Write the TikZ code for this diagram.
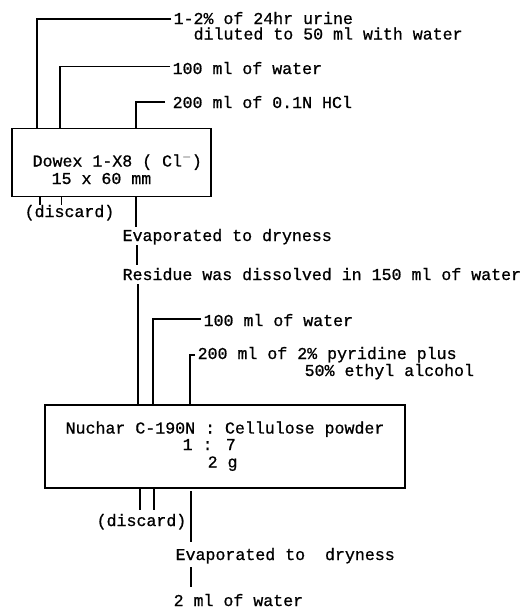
\documentclass[tikz,border=0pt]{standalone}
\usepackage{fontspec}
\newfontfamily\twfont{Liberation Mono}[FakeBold=0.8]
\begin{document}
\begin{tikzpicture}[x=1pt,y=-1pt, line width=1.3pt,
  lbl/.style={font=\twfont\fontsize{16.6}{16}\selectfont, anchor=base west, inner sep=0pt},
  colbox/.style={draw, rectangle, inner sep=0pt}]
\useasboundingbox (0,0) rectangle (529,608);
% column 1
\node[colbox, minimum width=199pt, minimum height=68pt] (col1) at (111.5,162.5) {};
\node[lbl] (urine) at (173,24) {1-2\% of 24hr urine};
\node[lbl] (urineb) at (193,39.5) {diluted to 50 ml with water};
\node[lbl] (wat1) at (172,74) {100 ml of water};
\node[lbl] (hcl) at (172,108) {200 ml of 0.1N HCl};
\node[lbl] (dowex) at (32,166.5) {Dowex 1-X8 ( Cl$^{-}$)};
\node[lbl] (size1) at (51,184) {15 x 60 mm};
\node[lbl] (disc1) at (24,217) {(discard)};
\node[lbl] (evap1) at (122,241) {Evaporated to dryness};
\node[lbl] (resid) at (122,280) {Residue was dissolved in 150 ml of water};
\coordinate (u0) at (171,19);   \coordinate (b1u) at (37,128.5);
\coordinate (w0) at (170,66.5); \coordinate (b1w) at (60,128.5);
\coordinate (h0) at (165,102);  \coordinate (b1h) at (136,128.5);
\draw (u0) -| (b1u);
\draw (w0) -| (b1w);
\draw (h0) -| (b1h);
\coordinate (d1a) at (40,196.5); \coordinate (d1ae) at (40,205);
\coordinate (d1b) at (61.5,196.5); \coordinate (d1be) at (61.5,205);
\draw (d1a) -- (d1ae);
\draw (d1b) -- (d1be);
\coordinate (o1) at (136,196.5); \coordinate (o1e) at (136,227);
\draw (o1) -- (o1e);
\coordinate (e1a) at (137,245); \coordinate (e1b) at (137,265);
\draw (e1a) -- (e1b);
% column 2
\node[colbox, minimum width=360pt, minimum height=83pt] (col2) at (225,446.5) {};
\node[lbl] (wat2) at (203,326) {100 ml of water};
\node[lbl] (pyr) at (197,359) {200 ml of 2\% pyridine plus};
\node[lbl] (pyrb) at (304,376) {50\% ethyl alcohol};
\node[lbl] (nuchar) at (65,433.5) {Nuchar C-190N : Cellulose powder};
\node[lbl] (ratio) at (182,450) {1 : 7};
\node[lbl] (mass) at (207,467.5) {2 g};
\node[lbl] (disc2) at (96,526) {(discard)};
\node[lbl] (evap2) at (175,560) {Evaporated to\ \ dryness};
\node[lbl] (final) at (173,606) {2 ml of water};
\coordinate (r0) at (138,284); \coordinate (b2r) at (138,405);
\draw (r0) -- (b2r);
\coordinate (w2) at (201,319); \coordinate (b2w) at (153,405);
\draw (w2) -| (b2w);
\coordinate (p0) at (195,355); \coordinate (b2p) at (190,405);
\draw (p0) -| (b2p);
\coordinate (d2a) at (140,488); \coordinate (d2ae) at (140,510);
\coordinate (d2b) at (154,488); \coordinate (d2be) at (154,510);
\draw (d2a) -- (d2ae);
\draw (d2b) -- (d2be);
\coordinate (o2) at (191,491); \coordinate (o2e) at (191,542);
\draw (o2) -- (o2e);
\coordinate (e2a) at (191,567); \coordinate (e2b) at (191,587);
\draw (e2a) -- (e2b);
\end{tikzpicture}
\end{document}
